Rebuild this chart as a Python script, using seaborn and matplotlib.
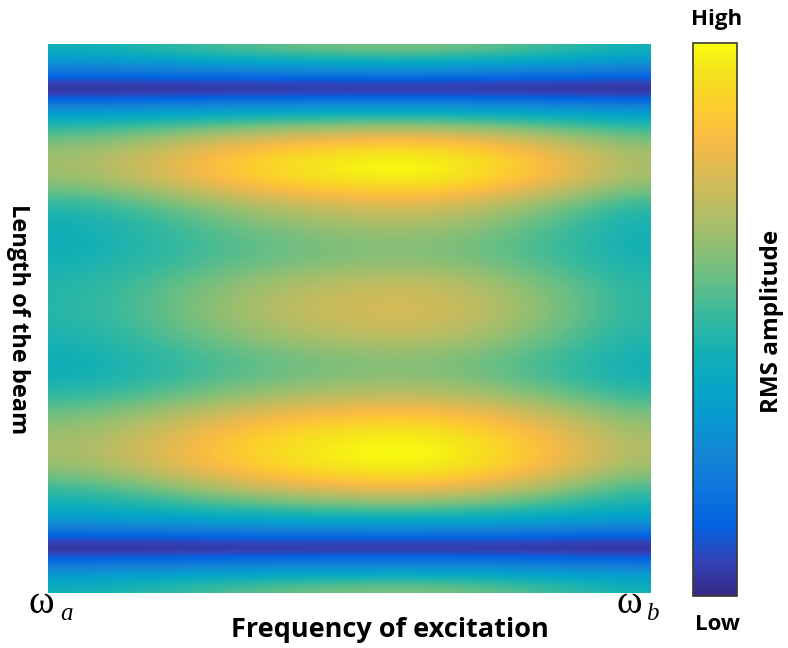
import numpy as np
import pandas as pd
import matplotlib
matplotlib.use("Agg")
import matplotlib.pyplot as plt
import seaborn as sns
from matplotlib.colors import LinearSegmentedColormap

# ---- data ----
# RMS amplitude (normalised 0..1) along the beam length, top -> bottom (55 samples)
rms_edge = [0.42, 0.33, 0.22, 0.10, 0.00, 0.12, 0.28, 0.40, 0.50, 0.57,
            0.62, 0.64, 0.64, 0.62, 0.57, 0.51, 0.46, 0.43, 0.42, 0.42,
            0.42, 0.43, 0.44, 0.45, 0.46, 0.46, 0.46, 0.46, 0.45, 0.44,
            0.43, 0.42, 0.42, 0.43, 0.46, 0.50, 0.55, 0.59, 0.62, 0.64,
            0.65, 0.64, 0.61, 0.56, 0.50, 0.45, 0.40, 0.33, 0.22, 0.10,
            0.00, 0.12, 0.25, 0.35, 0.42]
rms_peak = [0.60, 0.45, 0.30, 0.12, 0.02, 0.15, 0.35, 0.52, 0.68, 0.82,
            0.92, 0.98, 1.00, 0.97, 0.90, 0.82, 0.75, 0.70, 0.66, 0.63,
            0.62, 0.63, 0.66, 0.70, 0.73, 0.75, 0.76, 0.75, 0.73, 0.70,
            0.66, 0.63, 0.62, 0.64, 0.68, 0.74, 0.81, 0.88, 0.94, 0.98,
            1.00, 1.00, 0.97, 0.90, 0.80, 0.68, 0.55, 0.42, 0.28, 0.12,
            0.02, 0.15, 0.30, 0.45, 0.60]
# resonance weight across the excitation frequency band (omega_a -> omega_b)
freq_weight = [0.05, 0.18, 0.35, 0.55, 0.72, 0.86, 0.95, 1.00, 0.95, 0.80,
               0.58, 0.35, 0.10]
cbar_ticks = [0.058, 0.217, 0.376, 0.535, 0.694, 0.853]

# parula colormap anchors
parula_pos = [0, 4, 8, 12, 16, 20, 24, 28, 32, 36, 40, 44, 48, 52, 56, 60, 63]
parula_rgb = [(0.2081, 0.1663, 0.5292), (0.1959, 0.2645, 0.7279),
              (0.0117, 0.3875, 0.8820), (0.0498, 0.4586, 0.8641),
              (0.0793, 0.5200, 0.8312), (0.0343, 0.5966, 0.8199),
              (0.0228, 0.6535, 0.7768), (0.0843, 0.6928, 0.7062),
              (0.2178, 0.7250, 0.6193), (0.3953, 0.7459, 0.5244),
              (0.5709, 0.7485, 0.4494), (0.7184, 0.7411, 0.3905),
              (0.8507, 0.7299, 0.3360), (0.9739, 0.7314, 0.2666),
              (0.9880, 0.8066, 0.1794), (0.9589, 0.8949, 0.1132),
              (0.9763, 0.9831, 0.0538)]
parula = LinearSegmentedColormap.from_list(
    "parula", [(p / 63, c) for p, c in zip(parula_pos, parula_rgb)])

sns.set_theme(style="white")
plt.rcParams['font.family'] = ['Open Sans', 'DejaVu Sans']

edge = np.array(rms_edge)
peak = np.array(rms_peak)
w = np.array(freq_weight)
rms = edge[:, None] + (peak - edge)[:, None] * w[None, :]
df = pd.DataFrame(rms)
nrow, ncol = rms.shape

W, H = 788, 648
fig = plt.figure(figsize=(W / 100, H / 100), dpi=100)
ax = fig.add_axes([48 / W, 1 - 593 / H, (651 - 48) / W, (593 - 44) / H])
cax = fig.add_axes([693 / W, 1 - 596 / H, (737 - 693) / W, (596 - 43) / H])

sns.heatmap(df, ax=ax, cbar_ax=cax, cmap=parula, vmin=0, vmax=1,
            xticklabels=False, yticklabels=False)
mesh = ax.collections[0]
mesh.set_visible(False)
ax.imshow(rms, cmap=parula, vmin=0, vmax=1, interpolation='bicubic',
          interpolation_stage='data', aspect='auto',
          extent=(0, ncol, nrow, 0))
ax.set_xlim(0, ncol)
ax.set_ylim(nrow, 0)
ax.set_xlabel("")
ax.set_ylabel("")

cbar = mesh.colorbar
cbar.set_ticks(cbar_ticks)
cbar.ax.tick_params(axis='y', direction='in', length=4, width=1,
                    color='#3a3a2a', right=True, left=False,
                    labelright=False, labelleft=False)
cbar.outline.set_visible(True)
cbar.outline.set_edgecolor('#3a3a2a')
cbar.outline.set_linewidth(1.2)

def fx(x):
    return x / W

def fy(y):
    return 1 - y / H

bold = dict(fontweight='bold', color='black')
fig.text(fx(717), fy(19), "High", ha='center', va='center', fontsize=16, **bold)
fig.text(fx(717), fy(624), "Low", ha='center', va='center', fontsize=16, **bold)
fig.text(fx(772), fy(321), "RMS amplitude", ha='center', va='center',
         rotation=90, fontsize=17.5, **bold)
fig.text(fx(18), fy(319), "Length of the beam", ha='center', va='center',
         rotation=-90, fontsize=17, **bold)
fig.text(fx(390), fy(630), "Frequency of excitation", ha='center', va='center',
         fontsize=19.5, **bold)

serif = ['Liberation Serif', 'DejaVu Serif']
fig.text(fx(28), fy(613), "ω", ha='left', va='baseline', fontsize=28,
         family=serif, color='black')
fig.text(fx(60), fy(620), "a", ha='left', va='baseline', fontsize=18,
         family=serif, style='italic', color='black')
fig.text(fx(617), fy(613), "ω", ha='left', va='baseline', fontsize=28,
         family=serif, color='black')
fig.text(fx(646), fy(620), "b", ha='left', va='baseline', fontsize=18,
         family=serif, style='italic', color='black')

fig.savefig("out.png", dpi=100)
